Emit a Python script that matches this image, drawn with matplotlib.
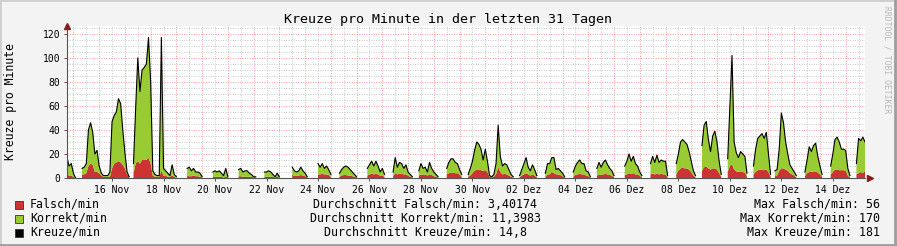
import numpy as np
import pandas as pd
import matplotlib
matplotlib.use('Agg')
import matplotlib.pyplot as plt

nan = np.nan

# Kreuze pro Minute, one value every 2 hours, one row per day (14 Nov 00:00 .. 15 Dez 06:00)
kreuze = [
    nan, nan, nan, 17, 10, 12, 4, 0, nan, nan, 8, 9,          # 14 Nov
    12, 40, 46, 38, 20, 23, 10, 4, 2, 2, 2, 5,                 # 15 Nov
    47, 52, 55, 66, 62, 40, 21, 5, 1, nan, 12, 58,             # 16 Nov
    100, 72, 90, 92, 95, 117, 80, 6, 3, 2, 2, 117,             # 17 Nov
    8, 6, 4, 2, 11, 3, 1, nan, nan, nan, nan, 8,               # 18 Nov
    9, 6, 8, 5, 5, 4, 1, nan, nan, nan, nan, 5,                # 19 Nov
    6, 5, 6, 4, 2, 8, 1, nan, nan, nan, nan, 7,                # 20 Nov
    8, 5, 6, 6, 4, 3, 1, 1, nan, nan, nan, 5,                  # 21 Nov
    5, 6, 5, 3, 1, 4, 1, nan, nan, nan, nan, nan,              # 22 Nov
    9, 6, 5, 6, 9, 6, 4, 1, nan, nan, nan, nan,                # 23 Nov
    12, 9, 12, 8, 10, 7, 3, nan, nan, nan, 4, 7,               # 24 Nov
    9, 10, 9, 7, 5, 3, 1, nan, nan, nan, nan, 8,               # 25 Nov
    11, 14, 10, 14, 10, 5, 8, 3, nan, nan, nan, 5,             # 26 Nov
    17, 9, 13, 12, 8, 11, 5, 3, 1, nan, nan, 6,                # 27 Nov
    12, 8, 9, 5, 13, 8, 5, 3, 1, nan, nan, nan,                # 28 Nov
    8, 13, 16, 16, 13, 12, 7, 3, nan, nan, 3, 8,               # 29 Nov
    14, 23, 30, 28, 24, 15, 24, 14, 2, 1, 3, 12,               # 30 Nov
    44, 18, 10, 12, 11, 7, 3, 1, nan, nan, 2, 7,               # 01 Dez
    12, 17, 9, 6, 11, 7, 2, nan, nan, nan, 4, 12,              # 02 Dez
    12, 17, 17, 7, 8, 6, 4, 1, nan, nan, nan, 5,               # 03 Dez
    10, 13, 15, 12, 12, 6, 5, 1, nan, nan, 8, 13,              # 04 Dez
    9, 13, 15, 11, 8, 6, 2, nan, nan, nan, nan, 10,            # 05 Dez
    14, 20, 14, 18, 12, 10, 5, 2, nan, nan, nan, 12,           # 06 Dez
    18, 13, 19, 13, 15, 14, 14, 2, nan, nan, nan, 12,          # 07 Dez
    20, 30, 32, 30, 28, 22, 14, 6, 2, nan, nan, 27,            # 08 Dez
    44, 47, 32, 22, 35, 39, 30, 14, 3, nan, nan, 16,           # 09 Dez
    58, 102, 30, 21, 17, 22, 20, 18, 4, nan, nan, 10,          # 10 Dez
    24, 33, 35, 37, 33, 38, 20, 3, nan, 6, 7, 24,              # 11 Dez
    54, 46, 30, 20, 11, 8, 5, 2, nan, nan, nan, 5,             # 12 Dez
    15, 26, 22, 27, 29, 18, 10, 3, nan, nan, nan, 10,          # 13 Dez
    20, 32, 34, 30, 24, 24, 23, 8, 2, nan, nan, 12,            # 14 Dez
    33, 31, 34, 30,                                            # 15 Dez
]

falsch = [
    nan, nan, nan, 3, 2, 2, 1, 0, nan, nan, 3, 3,
    4, 10, 12, 11, 5, 5, 4, 2, 1, 1, 1, 1,
    8, 12, 13, 14, 13, 11, 8, 3, 1, nan, 4, 12,
    14, 12, 15, 15, 15, 17, 12, 2, 1, 1, 1, 6,
    2, 2, 1, 1, 2, 1, 0, nan, nan, nan, nan, 2,
    1.5, 1.5, 2, 1.5, 1.5, 1, 0.5, nan, nan, nan, nan, 1,
    1, 1, 1, 1, 0.5, 1, 0.5, nan, nan, nan, nan, 1.5,
    1.5, 1, 1, 1, 1, 1, 0.5, 0.5, nan, nan, nan, 1,
    1, 1, 1, 1, 0.5, 1, 0.5, nan, nan, nan, nan, nan,
    2.5, 2, 2, 2, 2.5, 2, 1.5, 0.5, nan, nan, nan, nan,
    3, 3, 3.5, 3, 3, 2.5, 1, nan, nan, nan, 1, 2,
    2.5, 2.5, 2, 2, 1.5, 1, 0.5, nan, nan, nan, nan, 2,
    3, 3.5, 3, 3.5, 3, 2, 2, 1, nan, nan, nan, 1.5,
    4, 3, 3.5, 3.5, 3, 3, 2, 1, 0.5, nan, nan, 2,
    3, 2.5, 3, 2, 3, 2.5, 1.5, 1, 0.5, nan, nan, nan,
    3, 4, 4.5, 4.5, 4, 4, 3, 1, nan, nan, 1, 2,
    4, 6, 7, 7, 6.5, 6, 6.5, 5, 1, 0.5, 1, 3,
    9, 5, 3, 3.5, 3, 2, 1, 0.5, nan, nan, 0.5, 2,
    3, 4, 3, 2, 3, 2, 0.5, nan, nan, nan, 1, 3,
    3, 5, 4, 3, 3, 2.5, 1.5, 0.5, nan, nan, nan, 1,
    2.5, 3, 3.5, 3, 3, 2, 1.5, 0.5, nan, nan, 2, 3,
    2.5, 3, 3.5, 3, 2.5, 2, 0.5, nan, nan, nan, nan, 2.5,
    3, 4, 3.5, 4, 3, 3, 2, 0.5, nan, nan, nan, 3,
    3.5, 3, 3.5, 3, 3.5, 3, 3, 0.5, nan, nan, nan, 3,
    6, 8, 8.5, 8, 8, 7, 5, 2, 0.5, nan, nan, 6,
    9, 9.5, 8, 7, 8, 8, 7, 4, 1, nan, nan, 5,
    10, 11.5, 7, 5.5, 5, 5.5, 5, 4.5, 1, nan, nan, 3,
    5, 6.5, 7, 7, 6.5, 7, 5, 1, nan, 1.5, 2, 6,
    8, 8, 7, 6, 4, 3, 2, 0.5, nan, nan, nan, 1.5,
    4, 5, 5, 5.5, 5.5, 4.5, 3, 1, nan, nan, nan, 3,
    5, 7, 7, 6.5, 6.5, 6.5, 6, 2, 0.5, nan, nan, 3,
    4, 5, 4, 6,
]

tick_dates = ["2009-11-16", "2009-11-18", "2009-11-20", "2009-11-22", "2009-11-24",
              "2009-11-26", "2009-11-28", "2009-11-30", "2009-12-02", "2009-12-04",
              "2009-12-06", "2009-12-08", "2009-12-10", "2009-12-12", "2009-12-14"]
tick_labels = ["16 Nov", "18 Nov", "20 Nov", "22 Nov", "24 Nov", "26 Nov", "28 Nov",
               "30 Nov", "02 Dez", "04 Dez", "06 Dez", "08 Dez", "10 Dez", "12 Dez", "14 Dez"]

legend_names = ["Falsch/min", "Korrekt/min", "Kreuze/min"]
avg_texts = ["Durchschnitt Falsch/min: 3,40174",
             "Durchschnitt Korrekt/min: 11,3983",
             "Durchschnitt Kreuze/min: 14,8"]
max_texts = ["Max Falsch/min: 56", "Max Korrekt/min: 170", "Max Kreuze/min: 181"]

RED = '#CC3333'
GREEN = '#99CC33'
BACK = '#F3F3F3'
W, H = 897, 246

times = pd.date_range("2009-11-14 00:00", periods=len(kreuze), freq="2h")
kreuze = np.array(kreuze, dtype=float)
falsch = np.array(falsch, dtype=float)

plt.rcParams['font.family'] = 'DejaVu Sans Mono'

fig = plt.figure(figsize=(W / 100, H / 100), dpi=100, facecolor=BACK)


def px(x, y):
    return x / W, 1 - y / H


ax = fig.add_axes([67 / W, (H - 178) / H, 798 / W, 152 / H])
ax.set_facecolor('white')

ax.fill_between(times, 0, falsch, color=RED, lw=0, zorder=3)
ax.fill_between(times, falsch, kreuze, color=GREEN, lw=0, zorder=3)
ax.plot(times, kreuze, color='black', lw=0.8, zorder=4)

x0 = pd.Timestamp("2009-11-14 06:00")
x1 = pd.Timestamp("2009-12-15 06:00")
ax.set_xlim(x0, x1)
ax.set_ylim(0, 126.5)

# grid: gray at midnight, red at noon; gray every 5, red every 20
for t in pd.date_range("2009-11-14 12:00", x1, freq="12h"):
    is_major = t.hour == 12
    ax.axvline(t, color='#FF8080' if is_major else '#C8C8C8',
               lw=0.7, ls=(0, (1, 1.5)), alpha=0.8 if is_major else 1, zorder=1)
for v in range(5, 127, 5):
    is_major = v % 20 == 0
    ax.axhline(v, color='#FF8080' if is_major else '#C8C8C8',
               lw=0.7, ls=(0, (1, 1.5)), alpha=0.8 if is_major else 1, zorder=1)

ax.set_xticks(pd.to_datetime(tick_dates))
ax.set_xticklabels(tick_labels, fontsize=7)
ax.set_yticks(range(0, 121, 20))
ax.set_yticklabels([str(v) for v in range(0, 121, 20)], fontsize=7)
ax.tick_params(axis='both', length=2, width=0.7, color='#555555', pad=3, direction='out')

for s in ['top', 'right']:
    ax.spines[s].set_visible(False)
for s in ['left', 'bottom']:
    ax.spines[s].set_color('#555555')
    ax.spines[s].set_linewidth(0.8)
    ax.spines[s].set_zorder(5)

# axis arrows
ax.plot([0], [1.0], marker='^', color='#8B1A1A', markersize=4, transform=ax.transAxes,
        clip_on=False, zorder=6)
ax.plot([1.006], [0], marker='>', color='#8B1A1A', markersize=4, transform=ax.transAxes,
        clip_on=False, zorder=6)

# texts
fig.text(*px(448, 19), "Kreuze pro Minute in der letzten 31 Tagen", fontsize=9.6,
         ha='center', va='center')
fig.text(*px(11, 102), "Kreuze pro Minute", fontsize=8.3, rotation=90,
         ha='center', va='center')
fig.text(*px(887, 60), "RRDTOOL / TOBI OETIKER", fontsize=5.8, rotation=270,
         ha='center', va='center', color='#B8B8B8')

colors = [RED, GREEN, 'black']
rows = [204, 218, 232]
for color, name, avg, mx, y in zip(colors, legend_names, avg_texts, max_texts, rows):
    fig.patches.append(plt.Rectangle(px(15, y + 4.5), 8 / W, 8 / H, facecolor=color,
                                     edgecolor='#333333', lw=0.6,
                                     transform=fig.transFigure, figure=fig))
    fig.text(*px(30, y), name, fontsize=8.4, ha='left', va='center')
    fig.text(*px(425, y), avg, fontsize=8.4, ha='center', va='center')
    fig.text(*px(880, y), mx, fontsize=8.4, ha='right', va='center')

# canvas frame
fig.patches.append(plt.Rectangle((0, 0), 1, 1, fill=False, edgecolor='#CFCFCF', lw=2,
                                 transform=fig.transFigure, figure=fig))
fig.add_artist(plt.Line2D([0, 1], [0.003, 0.003], color='#9E9E9E', lw=2,
                          transform=fig.transFigure))
fig.add_artist(plt.Line2D([0.998, 0.998], [0, 1], color='#9E9E9E', lw=2,
                          transform=fig.transFigure))

fig.savefig('out.png', dpi=100, facecolor=BACK)
